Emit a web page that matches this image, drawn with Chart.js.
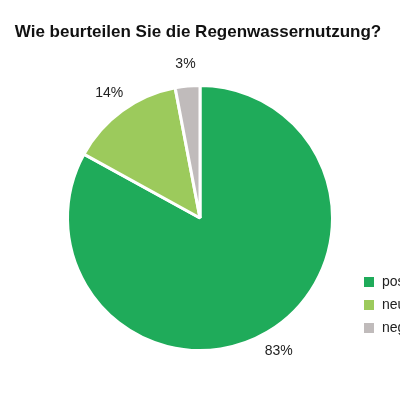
<!DOCTYPE html>
<html><head><meta charset="utf-8">
<script src="https://cdn.jsdelivr.net/npm/chart.js@4"></script>
<style>html,body{margin:0;padding:0;background:#fff;overflow:hidden}</style>
</head><body>
<div style="width:400px;height:400px"><canvas id="c"></canvas></div>
<script>
const titleText = "Wie beurteilen Sie die Regenwassernutzung?";
const categories = ["positiv", "neutral", "negativ"];
const values = [83, 14, 3];
const valueLabels = ["83%", "14%", "3%"];
const colors = ["#1fab5a", "#9cca5c", "#c0bbbb"];
const FONT = "'Liberation Sans Narrow','Liberation Sans',Arial,sans-serif";

const overlay = {
  id: "overlay",
  afterDraw(chart) {
    const ctx = chart.ctx;
    ctx.save();
    ctx.fillStyle = "#111";
    ctx.font = "bold 17px " + FONT;
    ctx.textAlign = "center";
    ctx.textBaseline = "middle";
    ctx.fillText(titleText, 198, 32);
    const meta = chart.getDatasetMeta(0);
    ctx.font = "14px " + FONT;
    ctx.fillStyle = "#222";
    meta.data.forEach((arc, i) => {
      const mid = (arc.startAngle + arc.endAngle) / 2;
      const r = arc.outerRadius + 22;
      ctx.fillText(valueLabels[i], arc.x + Math.cos(mid) * r, arc.y + Math.sin(mid) * r);
    });
    ctx.textAlign = "left";
    categories.forEach((c, i) => {
      const y = 282 + i * 23;
      ctx.fillStyle = colors[i];
      ctx.fillRect(364, y - 5, 10, 10);
      ctx.fillStyle = "#222";
      ctx.fillText(c, 382, y);
    });
    ctx.restore();
  }
};

new Chart(document.getElementById("c"), {
  type: "pie",
  data: { labels: categories, datasets: [{ data: values, backgroundColor: colors, borderColor: "#fff", borderWidth: 3 }] },
  options: {
    responsive: true, maintainAspectRatio: false, animation: false,
    layout: { padding: { top: 84, bottom: 48, left: 66, right: 66 } },
    plugins: { legend: { display: false }, tooltip: { enabled: false } }
  },
  plugins: [overlay]
});
</script>
</body></html>
